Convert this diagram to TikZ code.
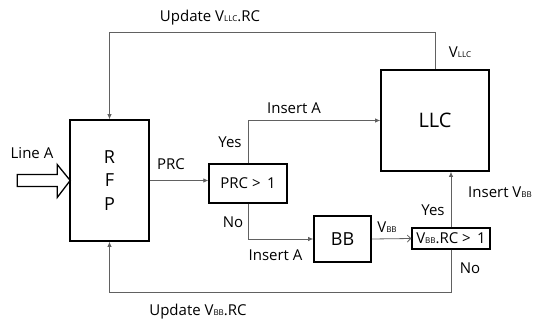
\documentclass[tikz,border=0pt]{standalone}
\usepackage{fontspec}
\setmainfont{Open Sans}
\usetikzlibrary{arrows.meta,calc}
\newcommand\lowsub[1]{{\fontsize{8}{8}\selectfont #1}}
\begin{document}
\begin{tikzpicture}[x=1pt,y=-1pt,
  blockbox/.style={draw=black,line width=1.6pt,fill=white,inner sep=0pt,minimum width=#1},
  decbox/.style={draw=black,line width=1.4pt,fill=white,inner sep=0pt},
  conn/.style={draw=black!62,line width=0.8pt},
  tip/.style={-{Latex[length=5pt,width=4.5pt]}},
  opentip/.style={-{Straight Barb[length=3.5pt,width=7pt]}},
  lbl/.style={font=\fontsize{15}{15}\selectfont,inner sep=0pt}]
\useasboundingbox (0,0) rectangle (533,321);

% blocks
\node[blockbox=79pt,minimum height=121pt,align=center,
      font=\fontsize{18}{23.5}\selectfont] (rfp) at (109.5,180.5) {R\\F\\P};
\node[blockbox=108pt,minimum height=101pt,font=\fontsize{20}{20}\selectfont] (llc) at (435,120.5) {LLC};
\node[blockbox=57pt,minimum height=46pt,font=\fontsize{18}{18}\selectfont] (bb) at (342.5,239) {BB};

% decisions
\node[decbox,minimum width=78pt,minimum height=39pt,font=\fontsize{15}{15}\selectfont] (d1) at (248,183.5) {PRC >\ \,1};
\node[decbox,minimum width=78pt,minimum height=21pt,font=\fontsize{15}{15}\selectfont] (d2) at (451,238.5) {V\lowsub{BB}.RC >\ \,1};

% routing levels of the feedback loops
\coordinate (topY) at (0,32);
\coordinate (botY) at (0,292);

% incoming line
\draw[line width=1.3pt,fill=white]
  ($(rfp.west)+(-52,-6)$) -- ($(rfp.west)+(-12,-6)$) -- ($(rfp.west)+(-12,-16)$)
  -- ($(rfp.west)+(1,0)$) -- ($(rfp.west)+(-12,17)$) -- ($(rfp.west)+(-12,6)$)
  -- ($(rfp.west)+(-52,6)$) -- cycle;

% connectors
\draw[conn,tip] (llc.north) -- (llc.north |- topY) -| (rfp.north);
\draw[conn,tip] (rfp.east) -- (rfp.east -| d1.west);
\draw[conn,tip] (d1.north) |- (llc.west);
\draw[conn,tip] (d1.south) |- (bb.west);
\draw[conn,opentip] (bb.east) -- (d2.west);
\draw[conn,tip] (d2.north) -- (d2.north |- llc.south);
\draw[conn,tip] (d2.south) -- (d2.south |- botY) -| (rfp.south);

% labels
\node[lbl] (lUpLLC) at (210,18) {Update V\lowsub{LLC}.RC};
\node[lbl] (lVLLC) at (460,52) {V\lowsub{LLC}};
\node[lbl] (lInsA1) at (294,108) {Insert A};
\node[lbl] (lYes1) at (230,142) {Yes};
\node[lbl] (lPRC) at (171,164) {PRC};
\node[lbl] (lNo1) at (233,222) {No};
\node[lbl] (lInsA2) at (275.5,255) {Insert A};
\node[lbl] (lVBB) at (387,227) {V\lowsub{BB}};
\node[lbl] (lYes2) at (433,210) {Yes};
\node[lbl] (lInsVBB) at (500,192) {Insert V\lowsub{BB}};
\node[lbl] (lNo2) at (470,268) {No};
\node[lbl] (lUpBB) at (198,312) {Update V\lowsub{BB}.RC};
\node[lbl] (lLineA) at (32,153) {Line A};
\end{tikzpicture}
\end{document}
